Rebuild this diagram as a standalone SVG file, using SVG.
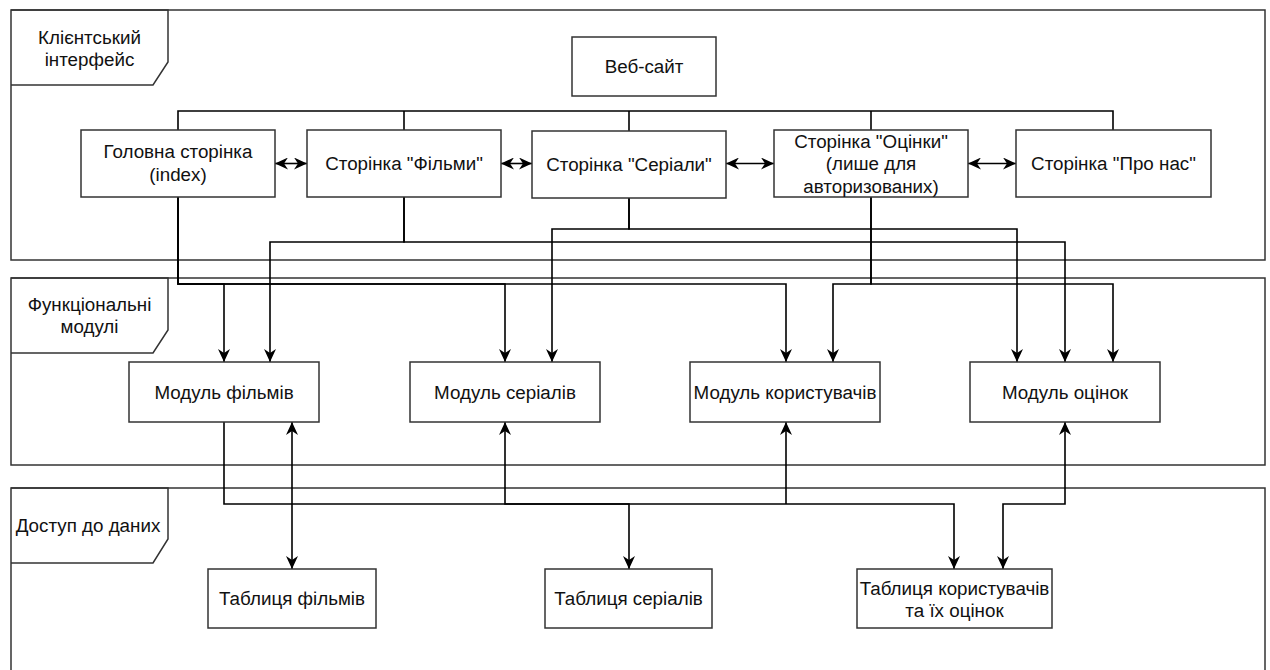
<svg xmlns="http://www.w3.org/2000/svg" width="1270" height="670" viewBox="0 0 1270 670">
<style>
.frame{fill:none;stroke:#333;stroke-width:1.5}
.box{fill:#fff;stroke:#333;stroke-width:1.5}
.t{font-family:"Liberation Sans",Arial,sans-serif;font-size:18.8px;fill:#111;text-anchor:middle}
.c{fill:none;stroke:#000;stroke-width:1.6}
.a{marker-end:url(#arr)}
.aa{marker-start:url(#arr);marker-end:url(#arr)}
.as{marker-start:url(#arr)}
</style>
<defs>
<marker id="arr" markerUnits="userSpaceOnUse" markerWidth="13" markerHeight="12" refX="13" refY="6" orient="auto-start-reverse" viewBox="0 0 13 12">
<path d="M13,6 L0,0 L4,6 L0,12 Z" fill="#000"/>
</marker>
</defs>
<rect width="1270" height="670" fill="#fff"/>
<g id="frame-client">
<rect class="frame" x="11" y="10" width="1254" height="250"/>
<path class="frame" d="M11,10 H168 V62 L153,85 H11"/>
<text class="t" x="89.5" y="44">Клієнтський</text>
<text class="t" x="89.5" y="66">інтерфейс</text>
</g>
<g id="frame-modules">
<rect class="frame" x="11" y="278" width="1254" height="187"/>
<path class="frame" d="M11,278 H168 V330 L153,353 H11"/>
<text class="t" x="89.5" y="311">Функціональні</text>
<text class="t" x="89.5" y="333">модулі</text>
</g>
<g id="frame-data">
<rect class="frame" x="11" y="488" width="1254" height="200"/>
<path class="frame" d="M11,488 H168 V539 L153,563 H11"/>
<text class="t" x="88" y="532">Доступ до даних</text>
</g>
<g id="connectors">
<path class="c" d="M178,130 V111 H1113 V130 M404,111 V130 M629,111 V131 M871,111 V130"/>
<line class="c aa" x1="275" y1="163.5" x2="307" y2="163.5"/>
<line class="c aa" x1="501" y1="163.5" x2="532" y2="163.5"/>
<line class="c aa" x1="726" y1="163.5" x2="774" y2="163.5"/>
<line class="c aa" x1="968" y1="163.5" x2="1016" y2="163.5"/>
<path class="c a" d="M178,197 V284 H224 V362"/>
<path class="c a" d="M178,197 V284 H505 V362"/>
<path class="c a" d="M178,197 V284 H786 V362"/>
<path class="c a" d="M404,197 V242 H270 V362"/>
<path class="c a" d="M404,197 V242 H1065 V362"/>
<path class="c a" d="M629,198 V229 H552 V362"/>
<path class="c a" d="M629,198 V229 H1017 V362"/>
<path class="c a" d="M871,197 V284 H833 V362"/>
<path class="c a" d="M871,197 V284 H1113 V362"/>
<path class="c a" d="M224,422 V504 H954 V569"/>
<path class="c aa" d="M292,422 V569"/>
<path class="c aa" d="M505,422 V504 H629 V569"/>
<path class="c as" d="M786,422 V504"/>
<path class="c aa" d="M1065,422 V504 H1003 V569"/>
</g>
<g id="node-website">
<rect class="box" x="572" y="37" width="144" height="59"/>
<text class="t" x="644" y="73">Веб-сайт</text>
</g>
<g id="node-home">
<rect class="box" x="81" y="130" width="194" height="67"/>
<text class="t" x="178" y="158">Головна сторінка</text>
<text class="t" x="178" y="181">(index)</text>
</g>
<g id="node-films-page">
<rect class="box" x="307" y="130" width="194" height="67"/>
<text class="t" x="404" y="170">Сторінка "Фільми"</text>
</g>
<g id="node-series-page">
<rect class="box" x="532" y="131" width="194" height="67"/>
<text class="t" x="629" y="170.5">Сторінка "Серіали"</text>
</g>
<g id="node-ratings-page">
<rect class="box" x="774" y="130" width="194" height="67"/>
<text class="t" x="871" y="147.5">Сторінка "Оцінки"</text>
<text class="t" x="871" y="170">(лише для</text>
<text class="t" x="871" y="192.5">авторизованих)</text>
</g>
<g id="node-about-page">
<rect class="box" x="1016" y="130" width="195" height="67"/>
<text class="t" x="1113.5" y="170">Сторінка "Про нас"</text>
</g>
<g id="node-films-module">
<rect class="box" x="129" y="362" width="190" height="60"/>
<text class="t" x="224" y="398.5">Модуль фільмів</text>
</g>
<g id="node-series-module">
<rect class="box" x="410" y="362" width="190" height="60"/>
<text class="t" x="505" y="398.5">Модуль серіалів</text>
</g>
<g id="node-users-module">
<rect class="box" x="690" y="362" width="190" height="60"/>
<text class="t" x="785" y="398.5">Модуль користувачів</text>
</g>
<g id="node-ratings-module">
<rect class="box" x="970" y="362" width="190" height="60"/>
<text class="t" x="1065" y="398.5">Модуль оцінок</text>
</g>
<g id="node-films-table">
<rect class="box" x="208" y="569" width="168" height="59"/>
<text class="t" x="292" y="605">Таблиця фільмів</text>
</g>
<g id="node-series-table">
<rect class="box" x="545" y="569" width="167" height="59"/>
<text class="t" x="628.5" y="605">Таблиця серіалів</text>
</g>
<g id="node-users-table">
<rect class="box" x="857" y="569" width="195" height="59"/>
<text class="t" x="954.5" y="594.5">Таблиця користувачів</text>
<text class="t" x="954.5" y="616.5">та їх оцінок</text>
</g>
</svg>
